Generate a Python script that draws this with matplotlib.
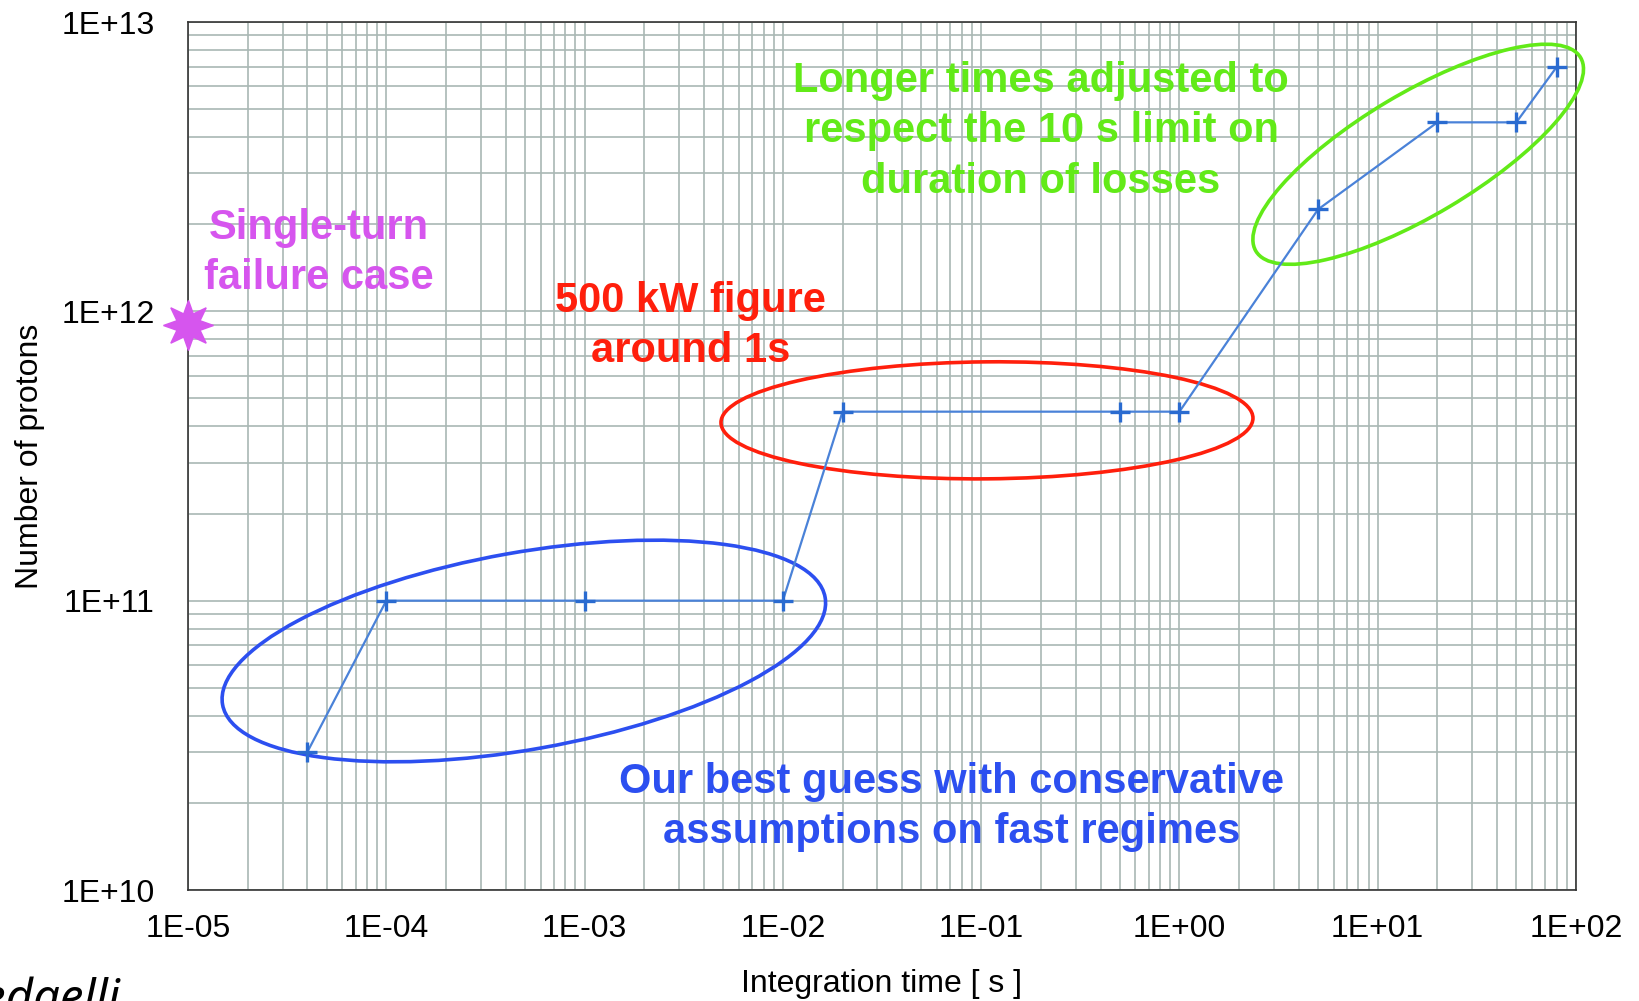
#!/usr/bin/env python3
import numpy as np
import matplotlib
matplotlib.use("Agg")
import matplotlib.pyplot as plt
from matplotlib.patches import Ellipse
from matplotlib.ticker import LogLocator, FuncFormatter, NullFormatter
from matplotlib.transforms import ScaledTranslation


# loss scenario: integration time vs allowed number of protons
time_s = [4e-5, 1e-4, 1e-3, 1e-2, 2e-2, 0.5, 1.0, 5.0, 20.0, 50.0, 80.0]
protons = [3e10, 1e11, 1e11, 1e11, 4.5e11, 4.5e11, 4.5e11, 2.25e12, 4.5e12, 4.5e12, 7e12]

single_turn_time = [1e-5]
single_turn_protons = [9e11]

x_limits = (1e-5, 1e2)
y_limits = (1e10, 1e13)

plt.rcParams["font.family"] = ["Liberation Sans", "DejaVu Sans"]

GRID = "#a9b7b4"
LINE = "#4a82d8"
MARK = "#2a6bd0"
MAGENTA = "#d655ee"
RED = "#ff1f0c"
GREEN = "#62ea18"
BLUE = "#2c4ff0"


def exp_label(v, pos):
    return f"1E{int(round(np.log10(v))):+03d}"


fig = plt.figure(figsize=(16.4, 10.01), dpi=100)
ax = fig.add_axes([188 / 1640, 111 / 1001, 1388 / 1640, 868 / 1001])
ax.set_xscale("log")
ax.set_yscale("log")
ax.set_xlim(*x_limits)
ax.set_ylim(*y_limits)

for axis in (ax.xaxis, ax.yaxis):
    axis.set_major_locator(LogLocator(base=10, numticks=20))
    axis.set_minor_locator(LogLocator(base=10, subs=np.arange(2, 10), numticks=20))
    axis.set_major_formatter(FuncFormatter(exp_label))
    axis.set_minor_formatter(NullFormatter())

ax.grid(True, which="both", color=GRID, linewidth=1.2)
ax.set_axisbelow(True)
ax.tick_params(which="both", length=0)
ax.tick_params(axis="x", labelsize=23, pad=17)
ax.tick_params(axis="y", labelsize=23, pad=24)
for sp in ax.spines.values():
    sp.set_color("#333333")
    sp.set_linewidth(1.2)

ax.set_xlabel("Integration time [ s ]", fontsize=23, labelpad=18)
ax.set_ylabel("Number of protons", fontsize=23, labelpad=12)

# circled regions, sized in pixels around a data-space centre
regions = [
    ((4.94e-4, 6.7e10), 6.12, 1.97, 10.1, BLUE),
    ((0.107, 4.2e11), 5.32, 1.17, 0.5, RED),
    ((16.0, 3.49e12), 3.78, 1.22, 30.8, GREEN),
]
for (cx, cy), w, h, ang, col in regions:
    tr = fig.dpi_scale_trans + ScaledTranslation(cx, cy, ax.transData)
    ax.add_patch(Ellipse((0, 0), w, h, angle=ang, transform=tr, clip_on=False,
                         fill=False, edgecolor=col, linewidth=2.6, zorder=4))

ax.plot(time_s, protons, color=LINE, linewidth=1.6, zorder=5)
ax.plot(time_s, protons, linestyle="none", marker="+", markersize=15,
        markeredgewidth=2.4, color=MARK, zorder=6)
ax.plot(single_turn_time, single_turn_protons, linestyle="none",
        marker=(8, 1, 0), markersize=36, color=MAGENTA, clip_on=False, zorder=7)

txt = dict(transform=ax.transAxes, ha="center", va="center",
           fontsize=30, fontweight="bold", linespacing=1.33, zorder=8)
ax.text(0.0944, 0.734, "Single-turn\nfailure case", color=MAGENTA, **txt)
ax.text(0.362, 0.650, "500 kW figure\naround 1s", color=RED, **txt)
ax.text(0.6146, 0.874, "Longer times adjusted to\nrespect the 10 s limit on\nduration of losses",
        color=GREEN, **txt)
ax.text(0.5504, 0.0956, "Our best guess with conservative\nassumptions on fast regimes",
        color=BLUE, **txt)

fig.text(120 / 1640, -12 / 1001, "Redaelli", ha="right", va="baseline",
         fontsize=34, style="italic", family=["Noto Sans", "DejaVu Sans"])

fig.savefig("out.png", dpi=100)
